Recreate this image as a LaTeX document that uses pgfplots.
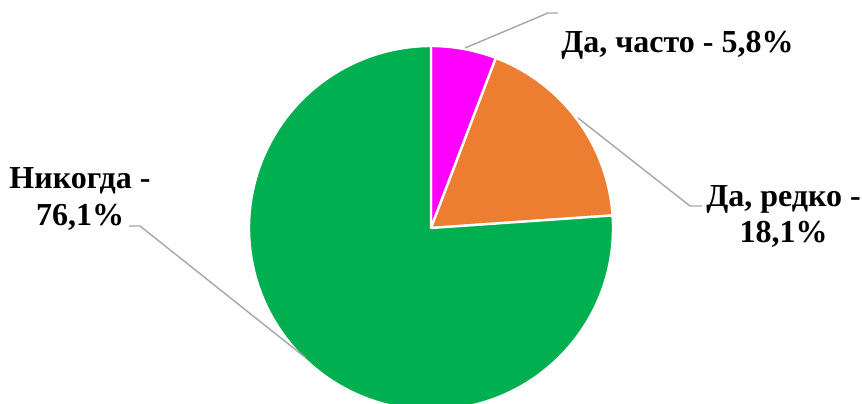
\documentclass[border=0pt]{standalone}
\usepackage{pgfplots}
\pgfplotsset{compat=1.18}
\usepackage{fontspec}
\setmainfont{Liberation Serif}

\definecolor{piemag}{HTML}{FF00FF}
\definecolor{pieorange}{HTML}{ED7D31}
\definecolor{piegreen}{HTML}{00B050}
\definecolor{leadergray}{HTML}{A6A6A6}

% shares in percent
\def\often{5.8}
\def\rarely{18.1}
\def\never{76.1}
\pgfmathsetmacro\angA{90-\often*3.6}
\pgfmathsetmacro\angB{\angA-\rarely*3.6}
\pgfmathsetmacro\angC{\angB-\never*3.6}

\begin{document}
\begin{tikzpicture}[
    slice/.style={draw=white, line width=1.2pt, line join=round},
    leader/.style={draw=leadergray, line width=0.7pt},
    lbl/.style={font=\bfseries\fontsize{16}{18}\selectfont, anchor=base, inner sep=0pt}]
\begin{axis}[
    width=431pt, height=201.5pt, scale only axis,
    hide axis, clip=true,
    xmin=0, xmax=862, ymin=0, ymax=403]
  \filldraw[slice, fill=piemag] (axis cs:431,175) -- ++(90:91pt)
     arc[start angle=90, end angle=\angA, radius=91pt] -- cycle;
  \filldraw[slice, fill=pieorange] (axis cs:431,175) -- ++(\angA:91pt)
     arc[start angle=\angA, end angle=\angB, radius=91pt] -- cycle;
  \filldraw[slice, fill=piegreen] (axis cs:431,175) -- ++(\angB:91pt)
     arc[start angle=\angB, end angle=\angC, radius=91pt] -- cycle;

  \draw[leader] (axis cs:465,355) -- (axis cs:548,390) -- (axis cs:558,390);
  \draw[leader] (axis cs:578,285) -- (axis cs:690,197) -- (axis cs:702,197);
  \draw[leader] (axis cs:306,45) -- (axis cs:140,177) -- (axis cs:129,177);

  \node[lbl] at (axis cs:677.5,351) {Да, часто - 5,8\%};
  \node[lbl] at (axis cs:783.5,197) {Да, редко -};
  \node[lbl] at (axis cs:783.5,161) {18,1\%};
  \node[lbl] at (axis cs:80,215) {Никогда -};
  \node[lbl] at (axis cs:80,178) {76,1\%};
\end{axis}
\pgfresetboundingbox
\useasboundingbox (current axis.south west) rectangle (current axis.north east);
\end{tikzpicture}
\end{document}
